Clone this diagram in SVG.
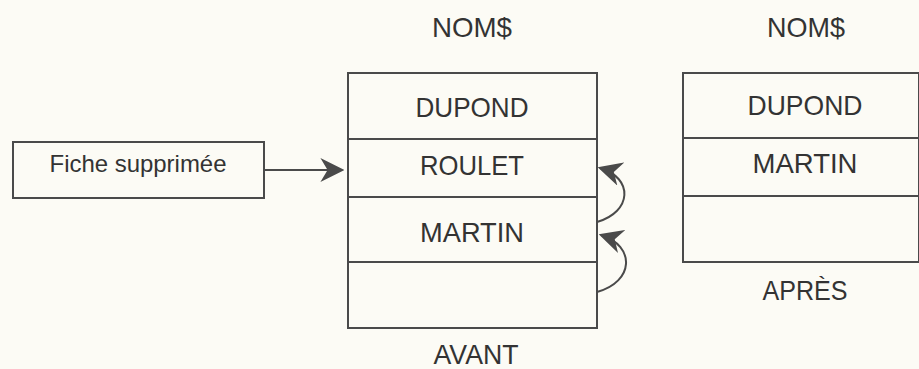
<svg xmlns="http://www.w3.org/2000/svg" width="919" height="369" viewBox="0 0 919 369">
<style>
.bg{fill:#fcfbf5}
.box{fill:none;stroke:#4a4a4a;stroke-width:2}
.ln{stroke:#4a4a4a;stroke-width:2;fill:none}
.t{font-family:"Liberation Sans",Arial,sans-serif;font-size:28px;fill:#333;text-anchor:middle}
.s{font-family:"Liberation Sans",Arial,sans-serif;font-size:24px;fill:#333;text-anchor:middle}
</style>
<defs>
<marker id="ah" viewBox="0 0 10 10" refX="9" refY="5" markerWidth="24" markerHeight="24" markerUnits="userSpaceOnUse" orient="auto">
<path d="M0,0 L10,5 L0,10 L3,5 Z" fill="#4a4a4a"/>
</marker>
</defs>
<rect class="bg" x="0" y="0" width="919" height="369"/>
<g id="fiche">
<rect class="box" x="13" y="142" width="251" height="56"/>
<text class="s" x="138" y="172" textLength="177" lengthAdjust="spacingAndGlyphs">Fiche supprimée</text>
</g>
<g id="avant">
<text class="t" x="472" y="37" textLength="80" lengthAdjust="spacingAndGlyphs">NOM$</text>
<rect class="box" x="348" y="73" width="249" height="255"/>
<line class="ln" x1="348" y1="139" x2="597" y2="139"/>
<line class="ln" x1="348" y1="197" x2="597" y2="197"/>
<line class="ln" x1="348" y1="262" x2="597" y2="262"/>
<text class="t" x="472" y="117" textLength="113" lengthAdjust="spacingAndGlyphs">DUPOND</text>
<text class="t" x="472" y="175" textLength="104" lengthAdjust="spacingAndGlyphs">ROULET</text>
<text class="t" x="472" y="242" textLength="104" lengthAdjust="spacingAndGlyphs">MARTIN</text>
<text class="t" x="476" y="364" textLength="85" lengthAdjust="spacingAndGlyphs">AVANT</text>
</g>
<g id="apres">
<text class="t" x="806" y="37" textLength="78" lengthAdjust="spacingAndGlyphs">NOM$</text>
<rect class="box" x="683" y="73" width="236" height="189"/>
<line class="ln" x1="683" y1="138" x2="919" y2="138"/>
<line class="ln" x1="683" y1="196" x2="919" y2="196"/>
<text class="t" x="805" y="115" textLength="115" lengthAdjust="spacingAndGlyphs">DUPOND</text>
<text class="t" x="805" y="173" textLength="105" lengthAdjust="spacingAndGlyphs">MARTIN</text>
<text class="t" x="805" y="300" textLength="85" lengthAdjust="spacingAndGlyphs">APRÈS</text>
</g>
<g id="connectors">
<line class="ln" x1="264" y1="170" x2="342" y2="170" marker-end="url(#ah)"/>
<path class="ln" d="M597,222 C632,212 634,178 600,168" marker-end="url(#ah)"/>
<path class="ln" d="M597,292 C634,282 636,246 601,235" marker-end="url(#ah)"/>
</g>
</svg>
